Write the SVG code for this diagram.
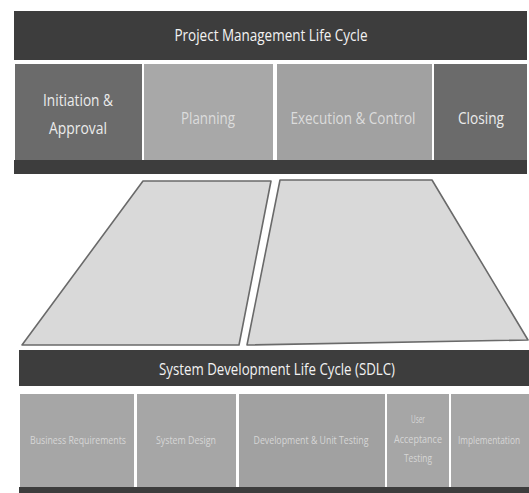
<svg xmlns="http://www.w3.org/2000/svg" width="529" height="493" viewBox="0 0 529 493">
  <style>
    .bar { fill: #3d3d3d; }
    .dark { fill: #6b6b6b; }
    .light { fill: #a8a8a8; }
    .mid { fill: #a1a1a1; }
    .sd { fill: #a6a6a6; }
    .t { font-family: "Open Sans", "Liberation Sans", sans-serif; text-anchor: middle; }
    .head { fill: #f2f2f2; font-size: 17px; }
    .phase { fill: #ececec; font-size: 17px; }
    .phase-l { fill: #dcdcdc; font-size: 17px; }
    .step { fill: #d6d6d6; font-size: 10.5px; }
    .plane { fill: #d9d9d9; stroke: #6a6a6a; stroke-width: 1.6; stroke-linejoin: round; }
  </style>
  <rect width="529" height="493" fill="#ffffff"/>

  <!-- project management band -->
  <g id="pm-header">
    <rect class="bar" x="14" y="11" width="513" height="49"/>
    <text class="t head" x="271" y="41" textLength="193" lengthAdjust="spacingAndGlyphs">Project Management Life Cycle</text>
  </g>
  <g id="pm-initiation">
    <rect class="dark" x="15" y="64" width="127" height="96"/>
    <text class="t phase" x="78" y="106" textLength="70" lengthAdjust="spacingAndGlyphs">Initiation &amp;</text>
    <text class="t phase" x="78" y="134" textLength="58" lengthAdjust="spacingAndGlyphs">Approval</text>
  </g>
  <g id="pm-planning">
    <rect class="light" x="144" y="64" width="129" height="96"/>
    <text class="t phase-l" x="208" y="124" textLength="54" lengthAdjust="spacingAndGlyphs">Planning</text>
  </g>
  <g id="pm-execution">
    <rect class="mid" x="277" y="64" width="155" height="96"/>
    <text class="t phase-l" x="353" y="124" textLength="125" lengthAdjust="spacingAndGlyphs">Execution &amp; Control</text>
  </g>
  <g id="pm-closing">
    <rect class="dark" x="434" y="64" width="93" height="96"/>
    <text class="t phase" x="481" y="124" textLength="46" lengthAdjust="spacingAndGlyphs">Closing</text>
  </g>
  <g id="pm-base">
    <rect class="bar" x="14" y="160" width="513" height="14"/>
  </g>

  <!-- planes linking the two life cycles -->
  <g id="connectors">
    <polygon class="plane" points="143,181 271,181 239,345 22,345"/>
    <polygon class="plane" points="280,180 432,180 528,340 247,345"/>
  </g>

  <!-- SDLC band -->
  <g id="sdlc-header">
    <rect class="bar" x="19" y="350" width="510" height="36"/>
    <text class="t head" x="277" y="375" textLength="236" lengthAdjust="spacingAndGlyphs">System Development Life Cycle (SDLC)</text>
  </g>
  <g id="sdlc-requirements">
    <rect class="sd" x="20" y="394" width="114" height="93"/>
    <text class="t step" x="78" y="444" textLength="96" lengthAdjust="spacingAndGlyphs">Business Requirements</text>
  </g>
  <g id="sdlc-design">
    <rect class="sd" x="137" y="394" width="99" height="93"/>
    <text class="t step" x="186" y="444" textLength="60" lengthAdjust="spacingAndGlyphs">System Design</text>
  </g>
  <g id="sdlc-development">
    <rect class="mid" x="239" y="394" width="146" height="93"/>
    <text class="t step" x="311" y="444" textLength="115" lengthAdjust="spacingAndGlyphs">Development &amp; Unit Testing</text>
  </g>
  <g id="sdlc-uat">
    <rect class="sd" x="387" y="394" width="62" height="93"/>
    <text class="t step" x="418" y="423" textLength="14" lengthAdjust="spacingAndGlyphs">User</text>
    <text class="t step" x="418" y="443" textLength="48" lengthAdjust="spacingAndGlyphs">Acceptance</text>
    <text class="t step" x="418" y="462" textLength="28" lengthAdjust="spacingAndGlyphs">Testing</text>
  </g>
  <g id="sdlc-implementation">
    <rect class="sd" x="451" y="394" width="78" height="93"/>
    <text class="t step" x="489" y="444" textLength="62" lengthAdjust="spacingAndGlyphs">Implementation</text>
  </g>
  <g id="sdlc-base">
    <rect class="bar" x="19" y="487" width="510" height="6"/>
  </g>
</svg>
